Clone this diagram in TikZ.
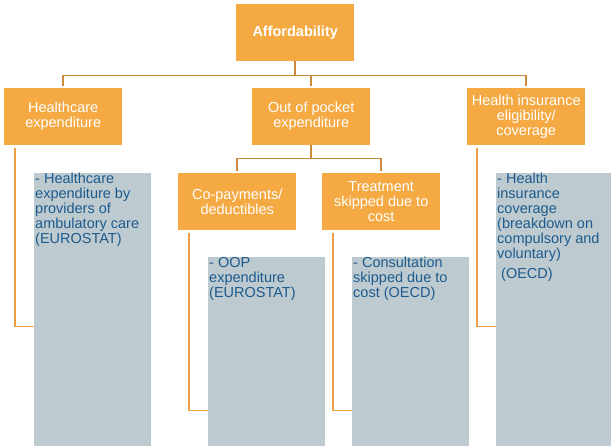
\documentclass[tikz,border=0pt]{standalone}
\usepackage{fontspec}
\setmainfont{Liberation Sans}
\usepackage{tikz}
\usepackage{xcolor}

\definecolor{boxorange}{HTML}{F4A943}
\definecolor{linkbrown}{HTML}{C98A3A}
\definecolor{sideorange}{HTML}{EDA043}
\definecolor{panelgrey}{HTML}{BDCACF}
\definecolor{inkblue}{HTML}{1D5B8E}

\newcommand{\panel}[2]{\parbox[t][#1][t]{115pt}{\raggedright #2}}

\tikzset{
    topic/.style={rectangle,fill=boxorange,text=white,anchor=north west,minimum width=118pt,minimum height=57pt,inner sep=0pt,align=center,font=\fontsize{14.5}{15}\selectfont},
    indic/.style={rectangle,fill=panelgrey,text=inkblue,anchor=north west,inner xsep=1pt,inner ysep=0pt,font=\fontsize{14.5}{15}\selectfont},
    link/.style={draw=linkbrown,line width=1.7pt},
    side/.style={draw=sideorange,line width=1.7pt}
}

\begin{document}
\begin{tikzpicture}[x=1pt,y=-1pt]
    \useasboundingbox (0,0) rectangle (611,446);
    % boxes
    \node[topic,font=\fontsize{14.5}{15}\selectfont\bfseries] (aff) at (236,4) {Affordability};
    \node[topic] (hc) at (4,88) {Healthcare\\expenditure};
    \node[topic] (oop) at (252,88) {Out of pocket\\expenditure};
    \node[topic] (hi) at (467,88) {Health insurance\\eligibility/\\coverage};
    \node[topic] (cop) at (178,173) {Co-payments/\\deductibles};
    \node[topic] (trt) at (322,173) {Treatment\\skipped due to\\cost};
    % indicators
    \node[indic] (ind1) at (34,173) {\panel{273pt}{- Healthcare\\expenditure by\\providers of\\ambulatory care\\(EUROSTAT)}};
    \node[indic] (ind2) at (208,257) {\panel{189pt}{- OOP\\expenditure\\(EUROSTAT)}};
    \node[indic] (ind3) at (352,257) {\panel{189pt}{- Consultation\\skipped due to\\cost (OECD)}};
    \node[indic] (ind4) at (496,173) {\panel{273pt}{- Health\\insurance\\coverage\\(breakdown on\\compulsory and\\voluntary)\par\vspace{5pt}\hspace*{4pt}(OECD)}};
    % tree
    \draw[link] (aff.south) -- ++(0,14) coordinate (bus);
    \draw[link] ([yshift=2pt]hc.north) |- (bus) -| ([yshift=2pt]hi.north);
    \draw[link] (bus) -| ([yshift=2pt]oop.north);
    \draw[link] (oop.south) -- ++(0,13) coordinate (bus2);
    \draw[link] ([yshift=2pt]cop.north) |- (bus2) -| ([yshift=2pt]trt.north);
    % side lines
    \draw[side] ([xshift=11pt,yshift=-3pt]hc.south west) |- ([yshift=120pt]ind1.south west);
    \draw[side] ([xshift=11pt,yshift=-3pt]cop.south west) |- ([yshift=36pt]ind2.south west);
    \draw[side] ([xshift=11pt,yshift=-3pt]trt.south west) |- ([yshift=36pt]ind3.south west);
    \draw[side] ([xshift=10pt,yshift=-3pt]hi.south west) |- ([yshift=120pt]ind4.south west);
\end{tikzpicture}
\end{document}
